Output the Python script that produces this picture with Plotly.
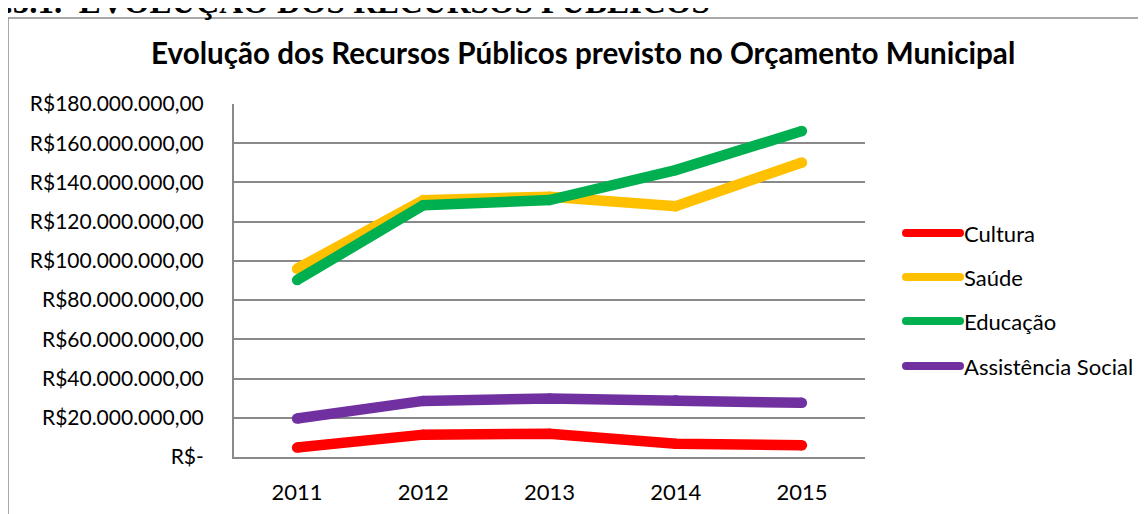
import plotly.graph_objects as go

# ---- data ----
years = ["2011", "2012", "2013", "2014", "2015"]
series_names = ["Cultura", "Saúde", "Educação", "Assistência Social"]
cultura = [4.8e6, 11.4e6, 11.9e6, 6.8e6, 6.0e6]
saude = [96.0e6, 131.0e6, 132.7e6, 127.9e6, 150.2e6]
educacao = [90.2e6, 128.4e6, 131.0e6, 146.3e6, 166.2e6]
assistencia = [19.6e6, 28.6e6, 29.8e6, 28.9e6, 27.6e6]
colors = ["#FF0000", "#FFC000", "#00B050", "#7030A0"]
y_tickvals = [0, 20e6, 40e6, 60e6, 80e6, 100e6, 120e6, 140e6, 160e6, 180e6]
y_ticktext = ["R$-", "R$20.000.000,00", "R$40.000.000,00", "R$60.000.000,00",
              "R$80.000.000,00", "R$100.000.000,00", "R$120.000.000,00",
              "R$140.000.000,00", "R$160.000.000,00", "R$180.000.000,00"]
chart_title = "Evolução dos Recursos Públicos previsto no Orçamento Municipal"
header = "5.5.1.  EVOLUÇÃO DOS RECURSOS PÚBLICOS"

# ---- layout geometry (px, page coords; page body offsets the figure by 8px) ----
OFF = 8
W, H = 1146, 514
L, R, T, B = 234 - OFF, 865 - OFF, 104 - OFF, 457 - OFF
PW, PH = R - L, B - T

def px2x(px):
    return (px - OFF - L) / PW

def py2y(py):
    return (B - (py - OFF)) / PH

FONT = "Lato, Calibri, sans-serif"
GRID = "#898989"

fig = go.Figure()
all_values = [cultura, saude, educacao, assistencia]
for name, vals, col in zip(series_names, all_values, colors):
    fig.add_trace(go.Scatter(
        x=years, y=vals, name=name, mode="lines+markers",
        line=dict(color=col, width=10.5),
        marker=dict(color=col, size=10.5, line=dict(width=0)),
        showlegend=False, hoverinfo="x+y+name",
    ))

shapes = []
annotations = []

# custom legend
leg_y = [233, 277, 321, 366]
for name, col, ly in zip(series_names, colors, leg_y):
    shapes.append(dict(type="line", xref="paper", yref="paper",
                       x0=px2x(906), x1=px2x(960), y0=py2y(ly), y1=py2y(ly),
                       line=dict(color=col, width=8)))
    shapes.append(dict(type="circle", xref="paper", yref="paper",
                       x0=px2x(902), x1=px2x(910), y0=py2y(ly - 4), y1=py2y(ly + 4),
                       fillcolor=col, line=dict(width=0)))
    shapes.append(dict(type="circle", xref="paper", yref="paper",
                       x0=px2x(956), x1=px2x(964), y0=py2y(ly - 4), y1=py2y(ly + 4),
                       fillcolor=col, line=dict(width=0)))
    annotations.append(dict(text=name, xref="paper", yref="paper",
                            x=px2x(962), y=py2y(ly), xanchor="left", yanchor="middle",
                            showarrow=False, font=dict(family=FONT, size=22, color="#000000")))

# chart border
shapes.append(dict(type="rect", xref="paper", yref="paper",
                   x0=px2x(8), x1=px2x(1170), y0=py2y(18), y1=py2y(540),
                   line=dict(color="#8C8C8C", width=1.5), fillcolor="rgba(0,0,0,0)",
                   layer="below"))

# title
annotations.append(dict(text="<b>" + chart_title + "</b>", xref="paper", yref="paper",
                        x=px2x(583), y=py2y(52), xanchor="center", yanchor="middle",
                        showarrow=False, font=dict(family=FONT, size=29.6, color="#000000")))

# partially visible document header
annotations.append(dict(text="<b>" + header + "</b>", xref="paper", yref="paper",
                        x=px2x(-14), y=py2y(1), xanchor="left", yanchor="middle",
                        showarrow=False,
                        font=dict(family="Liberation Serif, Times New Roman, serif",
                                  size=33, color="#000000")))

fig.update_layout(
    width=W, height=H,
    margin=dict(l=L, r=W - R, t=T, b=H - B, pad=0),
    paper_bgcolor="#FFFFFF", plot_bgcolor="#FFFFFF",
    showlegend=False,
    shapes=shapes, annotations=annotations,
    font=dict(family=FONT, color="#000000"),
)
fig.update_xaxes(
    type="category", range=[-0.5, 4.5],
    showgrid=False, showline=True, linecolor=GRID, linewidth=2,
    ticks="", tickfont=dict(family=FONT, size=22, color="#000000"),
    ticklabelstandoff=15, zeroline=False,
)
fig.update_yaxes(
    range=[0, 180e6], tickvals=y_tickvals, ticktext=y_ticktext,
    showgrid=True, gridcolor=GRID, gridwidth=2,
    showline=True, linecolor=GRID, linewidth=2,
    ticks="", tickfont=dict(family=FONT, size=21, color="#000000"),
    ticklabelstandoff=24, zeroline=False,
)

fig.write_html("out.html")
